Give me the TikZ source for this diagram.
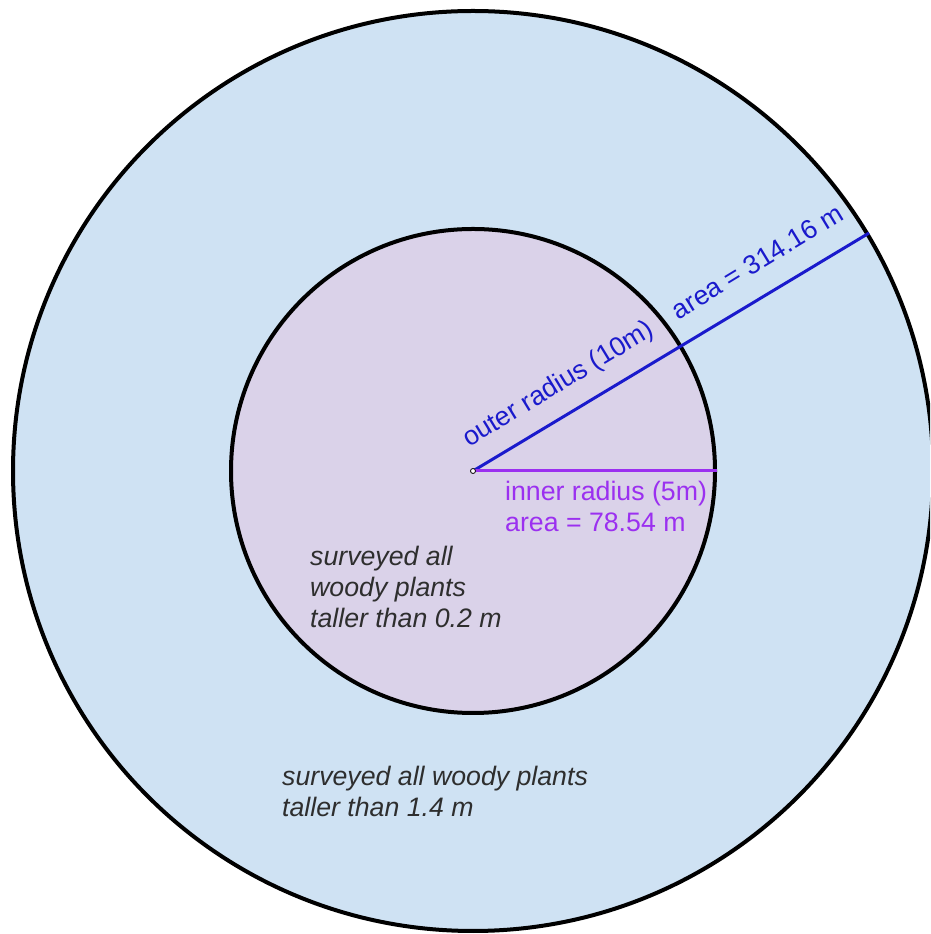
\documentclass[tikz,border=0pt]{standalone}
\usepackage{fontspec}
\setmainfont{Liberation Sans}
\usetikzlibrary{calc}
\definecolor{outerfill}{HTML}{CFE2F3}
\definecolor{innerfill}{HTML}{DAD2E9}
\definecolor{radblue}{HTML}{1A1ACC}
\definecolor{radpurple}{HTML}{9B30F0}
\definecolor{notegray}{HTML}{2E2E2E}
\tikzset{
  ring/.style={circle, draw=black, line width=4pt, inner sep=0pt},
  radline/.style={line width=3pt},
  lbl/.style={inner sep=0pt, font=\fontsize{26.7}{31.5}\selectfont},
  note/.style={lbl, text=notegray, align=left, font=\fontsize{26.7}{31}\selectfont\itshape},
}
\begin{document}
\begin{tikzpicture}[x=1pt,y=1pt]
\useasboundingbox (0,0) rectangle (930,934);
\fill[white] (0,0) rectangle (930,934);
\clip (0,0) rectangle (930,934);
\coordinate (C) at (473,463);
\node[ring, fill=outerfill, minimum size=920pt] (outer) at (C) {};
\node[ring, fill=innerfill, minimum size=484pt] (inner) at (C) {};
\draw[radline, radblue] (C) -- (outer.31.3);
\draw[radline, radpurple] (C) -- (inner.east);
\draw[black, line width=0.8pt, fill=white] (C) circle (2.5pt);
\node[lbl, text=radblue, anchor=base, rotate=31.3] (outerlbl) at ($(C)+(31.3:118)+(121.3:22)$) {outer radius (10m)};
\node[lbl, text=radblue, anchor=base, rotate=31.3] (outerarea) at ($(C)+(31.3:352)+(121.3:22)$) {area = 314.16 m};
\node[lbl, text=radpurple, anchor=base west, align=left] (innerlbl) at (505,402) {inner radius (5m)\\area = 78.54 m};
\node[note, anchor=base west] (innernote) at (310,306) {surveyed all\\woody plants\\taller than 0.2 m};
\node[note, anchor=base west] (outernote) at (282,117) {surveyed all woody plants\\taller than 1.4 m};
\end{tikzpicture}
\end{document}
